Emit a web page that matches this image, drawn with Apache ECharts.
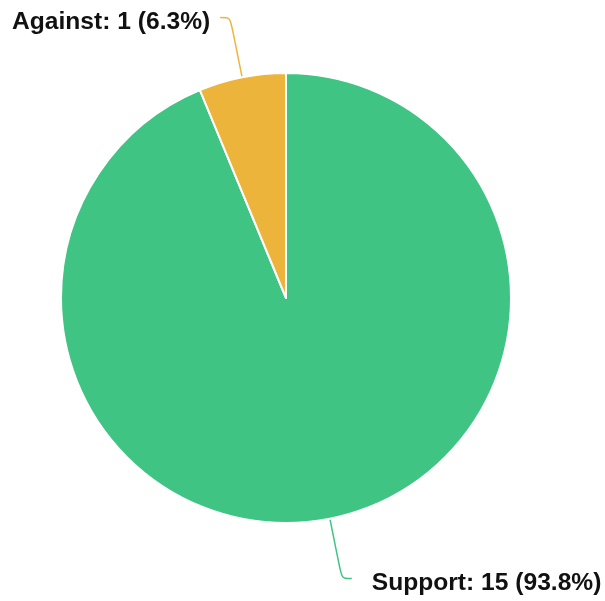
<!DOCTYPE html>
<html>
<head>
<meta charset="utf-8">
<script src="https://cdn.jsdelivr.net/npm/echarts@6/dist/echarts.min.js"></script>
<style>html,body{margin:0;padding:0;background:#fff;}#c{width:605px;height:601px;}</style>
</head>
<body>
<div id="c"></div>
<script>
const categories = ['Support', 'Against'];
const values = [15, 1];
const colors = ['#3fc483', '#edb43c'];
const labelGaps = [20, 10];

const chart = echarts.init(document.getElementById('c'), null, {renderer: 'canvas'});
chart.setOption({
  animation: false,
  backgroundColor: '#ffffff',
  series: [{
    type: 'pie',
    center: [286, 298],
    radius: [0, 225],
    startAngle: 90,
    clockwise: true,
    avoidLabelOverlap: false,
    data: categories.map((c, i) => ({
      name: c, value: values[i],
      itemStyle: {color: colors[i]},
      label: {distanceToLabelLine: labelGaps[i]}
    })),
    itemStyle: {borderColor: '#ffffff', borderWidth: 2},
    label: {
      show: true,
      formatter: p => '{s| }\n{t|' + p.name + ': ' + p.value + ' (' + p.percent.toFixed(1) + '%)}',
      overflow: 'none',
      rich: {
        s: {fontSize: 1, lineHeight: 10},
        t: {
          fontFamily: 'Liberation Sans, Arial, sans-serif',
          fontWeight: 'bold',
          fontSize: 24.6,
          color: '#111111',
          textBorderColor: '#ffffff',
          textBorderWidth: 3
        }
      }
    },
    labelLine: {
      show: true,
      length: 61,
      length2: 10,
      smooth: true,
      lineStyle: {width: 1.5}
    },
    emphasis: {disabled: true}
  }]
});
</script>
</body>
</html>
